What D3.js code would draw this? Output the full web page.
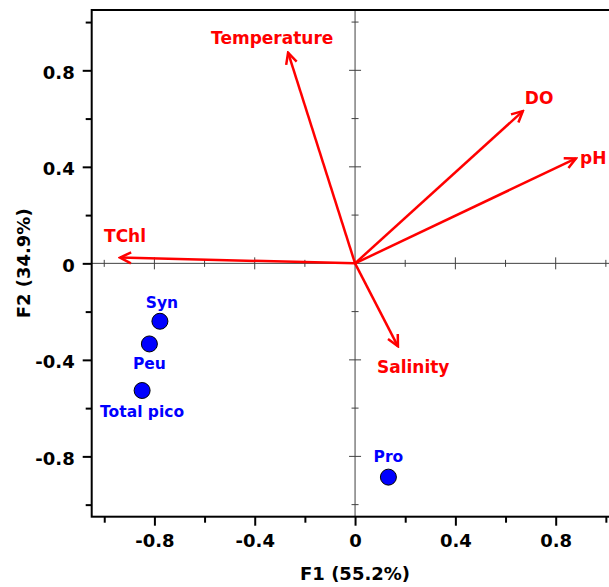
<!DOCTYPE html>
<html>
<head>
<meta charset="utf-8">
<script src="https://cdn.jsdelivr.net/npm/d3@7"></script>
<style>
  body { margin: 0; background: #fff; }
  svg { display: block; font-family: "DejaVu Sans", sans-serif; font-weight: bold; }
</style>
</head>
<body>
<svg id="chart"></svg>
<script>
// PCA biplot data
const variables = ["Temperature", "DO", "pH", "TChl", "Salinity"];
const varF1 = [-0.267, 0.669, 0.881, -0.937, 0.171];
const varF2 = [0.873, 0.631, 0.435, 0.024, -0.344];

const groups = ["Syn", "Peu", "Total pico", "Pro"];
const grpF1 = [-0.778, -0.820, -0.849, 0.133];
const grpF2 = [-0.240, -0.334, -0.527, -0.886];

const majorTicks = [-0.8, -0.4, 0, 0.4, 0.8];
const minorTicks = [-1, -0.6, -0.2, 0.2, 0.6, 1];
const xTitle = "F1 (55.2%)";
const yTitle = "F2 (34.9%)";

const svg = d3.select("#chart").attr("width", 609).attr("height", 587);

const plot = { left: 91.7, top: 10, right: 618.4, bottom: 516.7 };
const x = d3.scaleLinear().domain([-1.05, 1.05]).range([plot.left, plot.right]);
const y = d3.scaleLinear().domain([-1.05, 1.05]).range([plot.bottom, plot.top]);

const fmt = d => Math.abs(d) < 1e-9 ? "0" : String(+d.toFixed(1));
const allTicks = majorTicks.concat(minorTicks).sort((a, b) => a - b);
const isMajor = d => majorTicks.some(m => Math.abs(m - d) < 1e-9);

// inner axes through the origin
const inner = svg.append("g").attr("stroke", "#404040").attr("stroke-width", 1);
inner.append("line").attr("x1", plot.left).attr("x2", plot.right).attr("y1", y(0)).attr("y2", y(0));
inner.append("line").attr("x1", x(0)).attr("x2", x(0)).attr("y1", plot.top).attr("y2", plot.bottom);
inner.selectAll(".xt").data(allTicks.filter(d => d !== 0)).enter().append("line")
  .attr("x1", d => x(d)).attr("x2", d => x(d))
  .attr("y1", d => y(0) - (isMajor(d) ? 6 : 3.5)).attr("y2", d => y(0) + (isMajor(d) ? 6 : 3.5));
inner.selectAll(".yt").data(allTicks.filter(d => d !== 0)).enter().append("line")
  .attr("y1", d => y(d)).attr("y2", d => y(d))
  .attr("x1", d => x(0) - (isMajor(d) ? 6 : 3.5)).attr("x2", d => x(0) + (isMajor(d) ? 6 : 3.5));

// outer axes
const xAxis = svg.append("g").attr("transform", `translate(0,${plot.bottom})`)
  .call(d3.axisBottom(x).tickValues(allTicks).tickSize(6).tickSizeOuter(0).tickPadding(12)
    .tickFormat(d => isMajor(d) ? fmt(d) : ""));
const yAxis = svg.append("g").attr("transform", `translate(${plot.left},0)`)
  .call(d3.axisLeft(y).tickValues(allTicks).tickSize(6).tickSizeOuter(0).tickPadding(8)
    .tickFormat(d => isMajor(d) ? fmt(d) : ""));

[xAxis, yAxis].forEach(g => {
  g.select(".domain").remove();
  g.selectAll(".tick line").attr("stroke", "#000").attr("stroke-width", 2);
  g.selectAll("text").attr("fill", "#000").style("font-size", "18px")
    .style("font-family", "DejaVu Sans").style("font-weight", "bold");
});
xAxis.selectAll(".tick line").attr("y2", d => isMajor(d) ? 9 : 6);
xAxis.selectAll(".tick text").attr("dy", "0.71em");
yAxis.selectAll(".tick line").attr("x2", d => isMajor(d) ? -9 : -6);
yAxis.selectAll(".tick text").attr("x", -17).attr("dy", "0.45em");

// frame
svg.append("rect")
  .attr("x", plot.left).attr("y", plot.top)
  .attr("width", plot.right - plot.left).attr("height", plot.bottom - plot.top)
  .attr("fill", "none").attr("stroke", "#000").attr("stroke-width", 2);

// axis titles
svg.append("text").attr("x", (plot.left + plot.right) / 2).attr("y", 580)
  .attr("text-anchor", "middle").style("font-size", "18px").text(xTitle);
svg.append("text")
  .attr("transform", `translate(30,${(plot.top + plot.bottom) / 2}) rotate(-90)`)
  .attr("text-anchor", "middle").style("font-size", "18px").text(yTitle);

// arrows
svg.append("defs").append("marker")
  .attr("id", "head").attr("markerUnits", "userSpaceOnUse")
  .attr("viewBox", "-14 -8 16 16").attr("refX", 0).attr("refY", 0)
  .attr("markerWidth", 16).attr("markerHeight", 16).attr("orient", "auto")
  .append("path").attr("d", "M-11,-5.5L0,0L-11,5.5")
  .attr("fill", "none").attr("stroke", "#ff0000").attr("stroke-width", 2.5)
  .attr("stroke-linejoin", "miter");

const labelOffset = {
  "Temperature": [-77, -9],
  "DO": [2, -7],
  "pH": [4, 6],
  "TChl": [-16, -16],
  "Salinity": [-21, 27]
};

const vecs = variables.map((name, i) => ({ name, f1: varF1[i], f2: varF2[i] }));
svg.append("g").selectAll("line").data(vecs).enter().append("line")
  .attr("x1", x(0)).attr("y1", y(0))
  .attr("x2", d => x(d.f1)).attr("y2", d => y(d.f2))
  .attr("stroke", "#ff0000").attr("stroke-width", 2.5)
  .attr("marker-end", "url(#head)");
svg.append("g").selectAll("text").data(vecs).enter().append("text")
  .attr("x", d => x(d.f1) + labelOffset[d.name][0])
  .attr("y", d => y(d.f2) + labelOffset[d.name][1])
  .attr("fill", "#ff0000").style("font-size", "17px")
  .text(d => d.name);

// observations
const pts = groups.map((name, i) => ({ name, f1: grpF1[i], f2: grpF2[i] }));
const ptLabelDy = { "Syn": -13, "Peu": 25, "Total pico": 26.5, "Pro": -15 };
svg.append("g").selectAll("circle").data(pts).enter().append("circle")
  .attr("cx", d => x(d.f1)).attr("cy", d => y(d.f2)).attr("r", 8)
  .attr("fill", "#0000ff").attr("stroke", "#000").attr("stroke-width", 1);
svg.append("g").selectAll("text").data(pts).enter().append("text")
  .attr("x", d => x(d.f1) + (d.name === "Syn" ? 2 : 0))
  .attr("y", d => y(d.f2) + ptLabelDy[d.name])
  .attr("text-anchor", "middle").attr("fill", "#0000ff").style("font-size", "15.5px")
  .text(d => d.name);
</script>
</body>
</html>
